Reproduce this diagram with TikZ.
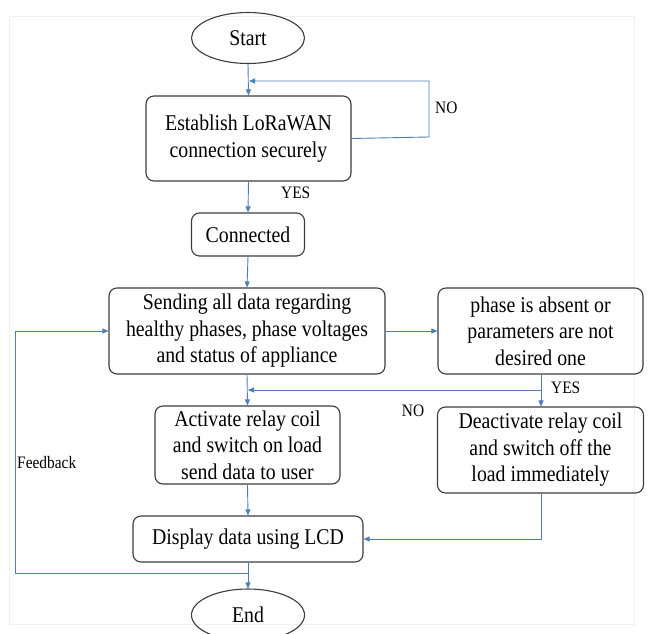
\documentclass[tikz,border=0pt]{standalone}
\usepackage{fontspec}
\setmainfont{Liberation Serif}
\newfontfamily\condfont[FakeStretch=0.88]{Liberation Serif}
\usetikzlibrary{arrows.meta,shapes.geometric}
\definecolor{conn}{RGB}{79,125,186}
\definecolor{boxline}{RGB}{60,60,60}
\tikzset{
  procbox/.style={draw=boxline, line width=1.1pt, rounded corners=8pt, align=center,
    inner sep=0pt, font=\condfont\fontsize{22.5}{26.5}\selectfont},
  term/.style={draw=boxline, line width=1.1pt, ellipse, inner sep=0pt, font=\condfont\fontsize{22.5}{24}\selectfont},
  link/.style={draw=conn, line width=0.9pt},
  arr/.style={link, -{Triangle[length=6pt,width=5pt]}},
  lbl/.style={font=\condfont\fontsize{17.5}{18}\selectfont, inner sep=0pt}
}
\begin{document}
\begin{tikzpicture}[x=1pt,y=-1pt]
\useasboundingbox (0,0) rectangle (651,634);
\begin{scope}
\clip (0,0) rectangle (651,634);
\draw[black!6, line width=1pt] (9,17) rectangle (634,624);

\node[term, minimum width=113pt, minimum height=51pt] (start) at (248,38) {Start};
\node[procbox, minimum width=205pt, minimum height=85pt] (est) at (248.5,138.5) {Establish LoRaWAN\\connection securely};
\node[procbox, minimum width=113pt, minimum height=43pt] (con) at (248,234.5) {Connected};
\node[procbox, minimum width=276pt, minimum height=86pt] (send) at (247,331) {Sending all data regarding\\healthy phases, phase voltages\\and status of appliance};
\node[procbox, minimum width=205pt, minimum height=86pt] (phase) at (540.5,331) {phase is absent or\\parameters are not\\desired one};
\node[procbox, minimum width=185pt, minimum height=78pt] (act) at (247.5,445) {Activate relay coil\\and switch on load\\send data to user};
\node[procbox, minimum width=206pt, minimum height=86pt] (deact) at (540.5,450) {Deactivate relay coil\\and switch off the\\load immediately};
\node[procbox, minimum width=230pt, minimum height=46pt] (disp) at (248,539) {Display data using LCD};
\node[term, minimum width=113pt, minimum height=52pt] (end) at (248,615) {End};

\coordinate (loopA) at (429,137);
\coordinate (loopB) at (429,81);
\coordinate (loopC) at (249,81);
\coordinate (jn) at (541,390);
\coordinate (jm) at (248,390);
\coordinate (dd) at (541,539);
\coordinate (fb0) at (248,573);
\coordinate (fb1) at (15,573);
\coordinate (fb2) at (15,331);

\draw[arr] (start.south) -- (est.north);
\draw[arr] (est.east) -- (loopA) -- (loopB) -- (loopC);
\draw[arr] (est.south) -- (con.north);
\draw[arr] (con.south) -- (send.north);
\draw[arr] (send.east) -- (phase.west);
\draw[arr] (phase.south -| jn) -- (deact.north -| jn);
\draw[arr] (jn) -- (jm);
\draw[arr] (send.south) -- (act.north);
\draw[arr] (act.south) -- (disp.north);
\draw[arr] (deact.south -| dd) -- (dd) -- (disp.east);
\draw[arr] (disp.south) -- (end.north);
\draw[arr] (fb0) -- (fb1) -- (fb2) -- (send.west);

\node[lbl, anchor=west] (no1) at (435,108) {NO};
\node[lbl, anchor=west] (yes1) at (281,193) {YES};
\node[lbl, anchor=west] (yes2) at (551,388) {YES};
\node[lbl] (no2) at (413,411) {NO};
\node[lbl, anchor=west] (fbl) at (17,463) {Feedback};
\end{scope}
\end{tikzpicture}
\end{document}
